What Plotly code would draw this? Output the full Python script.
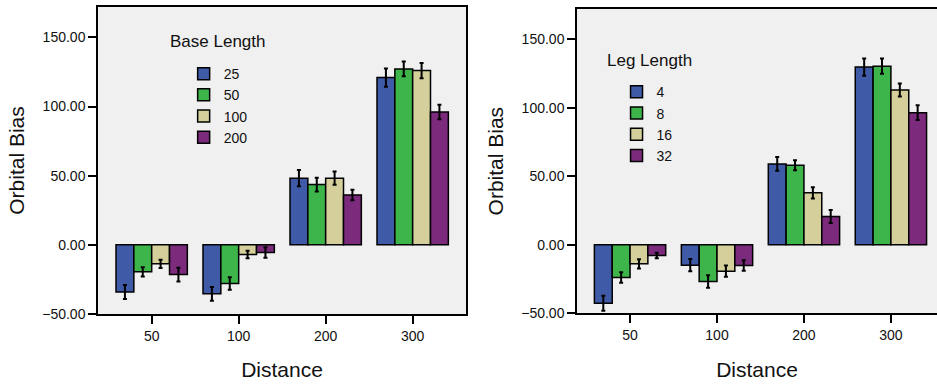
import plotly.graph_objects as go

distances = ["50", "100", "200", "300"]
colors = ["#3F5BA8", "#3DB54A", "#D5D09B", "#7B2A7C"]

base_labels = ["25", "50", "100", "200"]
base_values = [
    [-34.1, -35.4, 48.2, 121.0],
    [-19.5, -28.0, 43.6, 127.2],
    [-13.7, -7.0, 48.2, 126.0],
    [-21.5, -5.6, 36.1, 96.1],
]
base_errors = [
    [5.0, 5.0, 5.9, 6.6],
    [3.3, 4.5, 5.0, 5.3],
    [3.0, 2.7, 4.8, 5.5],
    [5.0, 3.8, 3.8, 5.2],
]

leg_labels = ["4", "8", "16", "32"]
leg_values = [
    [-42.7, -14.9, 59.0, 129.6],
    [-23.9, -26.8, 58.0, 130.3],
    [-13.9, -19.3, 37.9, 112.9],
    [-7.8, -15.1, 20.6, 96.4],
]
leg_errors = [
    [5.5, 4.5, 5.0, 6.3],
    [3.8, 4.6, 3.6, 5.5],
    [3.4, 4.1, 4.1, 4.8],
    [2.0, 3.8, 4.7, 5.3],
]

y_ticks = [-50, 0, 50, 100, 150]

FONT = "Arial, Liberation Sans, sans-serif"
W, H = 937, 387

fig = go.Figure()

for i, lab in enumerate(base_labels):
    fig.add_trace(go.Bar(
        x=distances, y=base_values[i], name=lab,
        marker=dict(color=colors[i], line=dict(color="black", width=1.5)),
        error_y=dict(type="data", array=base_errors[i], color="black", thickness=2, width=2),
        xaxis="x", yaxis="y", legend="legend", offsetgroup=str(i),
    ))

for i, lab in enumerate(leg_labels):
    fig.add_trace(go.Bar(
        x=distances, y=leg_values[i], name=lab,
        marker=dict(color=colors[i], line=dict(color="black", width=1.5)),
        error_y=dict(type="data", array=leg_errors[i], color="black", thickness=2, width=2),
        xaxis="x2", yaxis="y2", legend="legend2", offsetgroup=str(i),
    ))

axis_common = dict(
    showgrid=False, zeroline=False, showline=True, linecolor="black", linewidth=1.5,
    ticks="outside", ticklen=8, tickwidth=1.5, tickcolor="black", automargin=False,
    tickfont=dict(family=FONT, size=14, color="#111"),
)

yax = dict(
    range=[-50, 172], tickvals=y_ticks, tickformat=".2f",
    title=dict(text="Orbital Bias", font=dict(family=FONT, size=21, color="#111"), standoff=12),
    **axis_common,
)

xtitle = dict(text="Distance", font=dict(family=FONT, size=21, color="#111"), standoff=20)

fig.update_layout(
    width=W, height=H,
    margin=dict(l=0, r=0, t=0, b=0, autoexpand=False),
    paper_bgcolor="white", plot_bgcolor="#F0F0F0",
    barmode="group", bargap=0.18, bargroupgap=0,
    showlegend=True,
    xaxis=dict(domain=[98 / W, 466 / W], type="category", range=[-0.617, 3.613], anchor="y",
               mirror=True, title=xtitle, **axis_common),
    yaxis=dict(domain=[1 - 314 / H, 1 - 7 / H], anchor="x", mirror=True, **yax),
    xaxis2=dict(domain=[577 / W, 1.0], type="category", range=[-0.61, 3.53], anchor="y2",
                mirror=True, title=xtitle, **axis_common),
    yaxis2=dict(domain=[1 - 313.3 / H, 1 - 9 / H], anchor="x2", mirror=False, **yax),
    legend=dict(x=0.196, y=0.850, xanchor="left", yanchor="top", bgcolor="rgba(0,0,0,0)",
                font=dict(family=FONT, size=14, color="#111"), itemwidth=30, tracegroupgap=0),
    legend2=dict(x=0.658, y=0.803, xanchor="left", yanchor="top", bgcolor="rgba(0,0,0,0)",
                 font=dict(family=FONT, size=14, color="#111"), itemwidth=30, tracegroupgap=0),
    annotations=[
        dict(text="Base Length", x=168 / W, y=1 - 42 / H, xref="paper", yref="paper",
             xanchor="left", yanchor="middle", showarrow=False,
             font=dict(family=FONT, size=17, color="#111")),
        dict(text="Leg Length", x=605 / W, y=1 - 60 / H, xref="paper", yref="paper",
             xanchor="left", yanchor="middle", showarrow=False,
             font=dict(family=FONT, size=17, color="#111")),
    ],
)

fig.write_html("out.html")
